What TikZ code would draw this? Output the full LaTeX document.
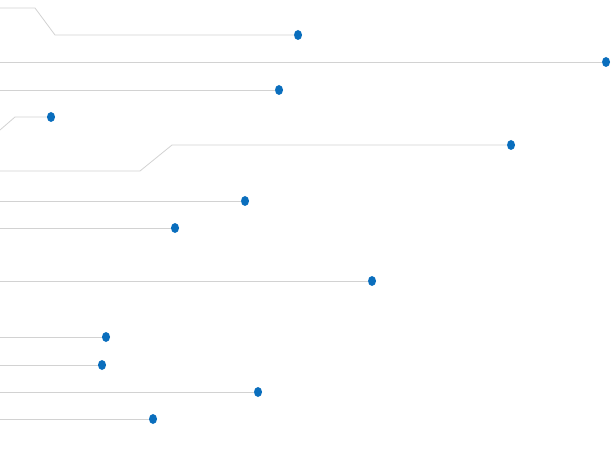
\documentclass[tikz,border=0pt]{standalone}
\usetikzlibrary{shapes.geometric}
\definecolor{dotblue}{HTML}{0A6EBD}
\definecolor{wire}{HTML}{D2D2D2}
\begin{document}
\begin{tikzpicture}[x=1pt,y=-1pt,
  dot/.style={ellipse,fill=dotblue,minimum width=8pt,minimum height=10pt,inner sep=0pt},
  ln/.style={draw=wire,line width=0.8pt}]
\useasboundingbox (0,0) rectangle (611,476);
\foreach \n/\x/\y in {a/298/35,b/606/62,c/279/90,d/51/117,e/511/145,f/245/201,g/175/228,h/372/281,i/106/337,j/102/365,k/258/392,l/153/419}
  \node[dot] (\n) at (\x,\y) {};
\foreach \n/\y in {s1/8,s2/62,s3/90,s4/130,s5/171,s6/201,s7/228,s8/281,s9/337,s10/365,s11/392,s12/419}
  \coordinate (\n) at (0,\y);
\draw[ln] (s1) -- (35,8) -- (55,35) -- (a);
\draw[ln] (s2) -- (b);
\draw[ln] (s3) -- (c);
\draw[ln] (s4) -- (15,117) -- (d);
\draw[ln] (s5) -- (140,171) -- (172,145) -- (e);
\draw[ln] (s6) -- (f);
\draw[ln] (s7) -- (g);
\draw[ln] (s8) -- (h);
\draw[ln] (s9) -- (i);
\draw[ln] (s10) -- (j);
\draw[ln] (s11) -- (k);
\draw[ln] (s12) -- (l);
\end{tikzpicture}
\end{document}
